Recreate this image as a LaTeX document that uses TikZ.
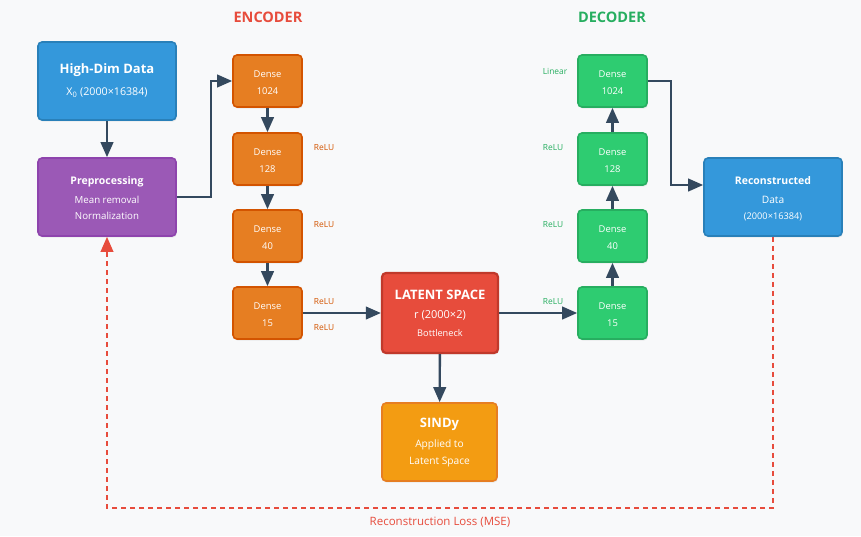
\documentclass[tikz,border=0pt]{standalone}
\usepackage{fontspec}
\setmainfont{Open Sans}
\usetikzlibrary{arrows.meta,shadows}
\definecolor{bgc}{HTML}{F8F9FA}
\definecolor{bluef}{HTML}{3498DB}
\definecolor{blued}{HTML}{2980B9}
\definecolor{purf}{HTML}{9B59B6}
\definecolor{purd}{HTML}{8E44AD}
\definecolor{encf}{HTML}{E67E22}
\definecolor{encd}{HTML}{D35400}
\definecolor{redf}{HTML}{E74C3C}
\definecolor{redd}{HTML}{C0392B}
\definecolor{sinf}{HTML}{F39C12}
\definecolor{decf}{HTML}{2ECC71}
\definecolor{decd}{HTML}{27AE60}
\definecolor{dark}{HTML}{34495E}
\newcommand\fsz[1]{\fontsize{#1}{#1}\selectfont}
\tikzset{
  boxbase/.style={draw, rounded corners=4pt, line width=1.6pt, inner sep=0pt,
    drop shadow={opacity=0.12, shadow xshift=0.8pt, shadow yshift=-1.6pt}},
  bigbox/.style={boxbase, minimum width=138pt, minimum height=78pt},
  dense/.style={boxbase, minimum width=69pt, minimum height=52pt, text=white, align=center,
    font=\fontsize{9.4}{17}\selectfont, text height=27pt, text depth=0pt},
  enc/.style={dense, fill=encf, draw=encd},
  dec/.style={dense, fill=decf, draw=decd},
  txt/.style={text=white, inner sep=0pt, text height=.72em, text depth=0pt},
  ttl/.style={txt, font=\bfseries\fsz{13}},
  ttm/.style={txt, font=\bfseries\fsz{10.5}},
  sub/.style={txt, font=\fsz{9.7}},
  act/.style={inner sep=0pt, font=\fsz{8.4}},
  arr/.style={draw=dark, line width=2.4pt, -{Triangle[length=15pt,width=12.5pt]}},
  lossarr/.style={draw=redf, line width=2pt, dash pattern=on 5pt off 4pt, -{Triangle[length=15pt,width=12.5pt]}},
}
\begin{document}
\begin{tikzpicture}[x=1pt,y=-1pt]
\fill[bgc] (0,0) rectangle (861,536);
\useasboundingbox (0,0) rectangle (861,536);

% titles
\node[inner sep=0pt, text=redf, font=\bfseries\fsz{14.5}] (enct) at (268,17) {ENCODER};
\node[inner sep=0pt, text=decd, font=\bfseries\fsz{14.5}] (dect) at (612,17) {DECODER};

% big boxes
\node[bigbox, fill=bluef, draw=blued] (hd) at (107,81) {};
\node[ttl] (hdT) at (107,70) {High-Dim Data};
\node[sub, font=\fsz{10.7}] (hdS) at (107,92) {X\textsubscript{0} (2000×16384)};

\node[bigbox, fill=purf, draw=purd] (pre) at (107,197) {};
\node[ttm] (preT) at (107,181) {Preprocessing};
\node[sub] (preS1) at (107,200) {Mean removal};
\node[sub] (preS2) at (107,216) {Normalization};

\node[boxbase, fill=redf, draw=redd, line width=2.2pt, minimum width=116pt, minimum height=80pt] (lat) at (440,313) {};
\node[ttl] (latT) at (440,296) {LATENT SPACE};
\node[sub, font=\fsz{11}] (latS1) at (440,315) {r (2000×2)};
\node[sub, font=\fsz{9.2}] (latS2) at (440,333) {Bottleneck};

\node[boxbase, fill=sinf, draw=encf, minimum width=115pt, minimum height=78pt] (sin) at (439.5,442) {};
\node[ttl] (sinT) at (439.5,424) {SINDy};
\node[sub, font=\fsz{10.2}] (sinS1) at (439.5,444) {Applied to};
\node[sub, font=\fsz{10.2}] (sinS2) at (439.5,461) {Latent Space};

\node[bigbox, fill=bluef, draw=blued] (rec) at (773,197) {};
\node[ttm] (recT) at (773,181) {Reconstructed};
\node[sub, font=\fsz{10.2}] (recS1) at (773,200) {Data};
\node[sub, font=\fsz{9.2}] (recS2) at (773,216) {(2000×16384)};

% encoder
\node[enc] (e1) at (267.5,81) {Dense\\1024};
\node[enc] (e2) at (267.5,159) {Dense\\128};
\node[enc] (e3) at (267.5,236) {Dense\\40};
\node[enc] (e4) at (267.5,313) {Dense\\15};
\node[act, text=encd] (ea1) at (324,148) {ReLU};
\node[act, text=encd] (ea2) at (324,225) {ReLU};
\node[act, text=encd] (ea3) at (324,302) {ReLU};
\node[act, text=encd] (ea4) at (324,328) {ReLU};

% decoder
\node[dec] (d1) at (612.5,81) {Dense\\1024};
\node[dec] (d2) at (612.5,159) {Dense\\128};
\node[dec] (d3) at (612.5,236) {Dense\\40};
\node[dec] (d4) at (612.5,313) {Dense\\15};
\node[act, text=decd] (da1) at (555,71) {Linear};
\node[act, text=decd] (da2) at (553,148) {ReLU};
\node[act, text=decd] (da3) at (553,225) {ReLU};
\node[act, text=decd] (da4) at (553,302) {ReLU};

% connectors
\draw[arr] (hd) -- (pre);
\draw[arr] (pre.east) -- ++(34,0) |- (e1.west);
\draw[arr] (e1) -- (e2);
\draw[arr] (e2) -- (e3);
\draw[arr] (e3) -- (e4);
\draw[arr] (e4) -- (lat);
\draw[arr] (lat) -- (d4);
\draw[arr] (lat) -- (sin);
\draw[arr] (d4) -- (d3);
\draw[arr] (d3) -- (d2);
\draw[arr] (d2) -- (d1);
\draw[arr] (d1.east) -- ++(23,0) |- ([yshift=12pt]rec.west);
\draw[lossarr] (rec.south) -- ++(0,271) -| (pre.south);
\node[inner sep=0pt, text=redf, font=\fsz{11.5}] (loss) at (440,522) {Reconstruction Loss (MSE)};
\end{tikzpicture}
\end{document}
